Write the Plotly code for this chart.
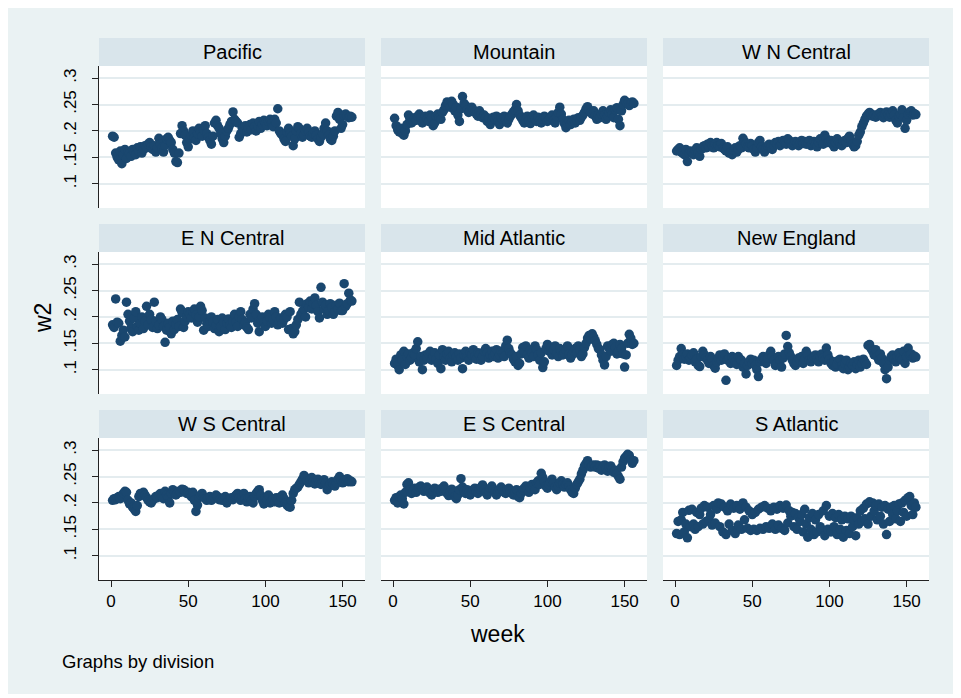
import plotly.graph_objects as go

# page is 961x698; plotly div sits at an 8px body margin
PAGE_W, PAGE_H = 961, 698
OFF = 8
W, H = PAGE_W - OFF, PAGE_H - OFF

divisions = ["Pacific", "Mountain", "W N Central",
             "E N Central", "Mid Atlantic", "New England",
             "W S Central", "E S Central", "S Atlantic"]

x_ticks = [0, 50, 100, 150]
y_ticks = [0.1, 0.15, 0.2, 0.25, 0.3]
y_ticktext = [".1", ".15", ".2", ".25", ".3"]

pacific = [
    0.190, 0.188, 0.158, 0.150, 0.145, 0.162, 0.138, 0.155, 0.165, 0.148,
    0.160, 0.158, 0.152, 0.165, 0.160, 0.155, 0.168, 0.162, 0.170, 0.158,
    0.165, 0.172, 0.168, 0.175, 0.178, 0.170, 0.165, 0.172, 0.160, 0.168,
    0.186, 0.175, 0.168, 0.160, 0.172, 0.185, 0.188, 0.182, 0.178, 0.165,
    0.158, 0.142, 0.140, 0.158, 0.195, 0.210, 0.200, 0.192, 0.178, 0.170,
    0.185, 0.192, 0.200, 0.188, 0.182, 0.195, 0.205, 0.198, 0.190, 0.202,
    0.210, 0.195, 0.188, 0.182, 0.175, 0.190, 0.215, 0.220, 0.210, 0.205,
    0.195, 0.185, 0.178, 0.190, 0.200, 0.205, 0.212, 0.218, 0.236, 0.222,
    0.218, 0.215, 0.188, 0.195, 0.205, 0.200, 0.210, 0.198, 0.205, 0.212,
    0.202, 0.215, 0.208, 0.200, 0.210, 0.218, 0.205, 0.212, 0.220, 0.215,
    0.210, 0.218, 0.222, 0.215, 0.208, 0.222, 0.215, 0.242, 0.200, 0.195,
    0.192, 0.185, 0.180, 0.198, 0.205, 0.195, 0.190, 0.172, 0.185, 0.200,
    0.208, 0.205, 0.195, 0.188, 0.192, 0.200, 0.205, 0.198, 0.190, 0.188,
    0.195, 0.200, 0.192, 0.185, 0.180, 0.188, 0.195, 0.205, 0.215, 0.200,
    0.192, 0.185, 0.182, 0.190, 0.200, 0.228, 0.235, 0.222, 0.205, 0.212,
    0.230, 0.232, 0.228, 0.225, 0.228, 0.226,
]

mountain = [
    0.224, 0.210, 0.202, 0.198, 0.205, 0.195, 0.192, 0.200, 0.212, 0.230,
    0.222, 0.215, 0.218, 0.225, 0.220, 0.228, 0.232, 0.225, 0.215, 0.220,
    0.228, 0.222, 0.218, 0.230, 0.225, 0.210, 0.215, 0.228, 0.232, 0.225,
    0.222, 0.235, 0.240, 0.248, 0.255, 0.252, 0.245, 0.256, 0.250, 0.238,
    0.245, 0.230, 0.218, 0.242, 0.265, 0.252, 0.248, 0.240, 0.235, 0.238,
    0.245, 0.240, 0.236, 0.232, 0.228, 0.238, 0.232, 0.225, 0.230, 0.226,
    0.218, 0.224, 0.212, 0.220, 0.226, 0.222, 0.228, 0.218, 0.212, 0.225,
    0.222, 0.228, 0.220, 0.215, 0.222, 0.228, 0.232, 0.236, 0.240, 0.250,
    0.238, 0.230, 0.225, 0.220, 0.215, 0.222, 0.228, 0.220, 0.214, 0.225,
    0.230, 0.222, 0.218, 0.226, 0.220, 0.215, 0.222, 0.228, 0.225, 0.218,
    0.222, 0.226, 0.230, 0.220, 0.215, 0.228, 0.235, 0.245, 0.232, 0.222,
    0.214, 0.206, 0.215, 0.220, 0.212, 0.218, 0.222, 0.215, 0.220, 0.225,
    0.220, 0.226, 0.230, 0.235, 0.242, 0.246, 0.240, 0.235, 0.232, 0.238,
    0.228, 0.222, 0.230, 0.225, 0.232, 0.238, 0.230, 0.222, 0.228, 0.235,
    0.240, 0.232, 0.225, 0.240, 0.244, 0.222, 0.210, 0.238, 0.250, 0.258,
    0.255, 0.252, 0.248, 0.252, 0.255, 0.252,
]

wn_central = [
    0.162, 0.165, 0.168, 0.160, 0.158, 0.155, 0.165, 0.142, 0.158, 0.162,
    0.160, 0.155, 0.163, 0.168, 0.158, 0.152, 0.165, 0.170, 0.172, 0.168,
    0.175, 0.170, 0.178, 0.172, 0.168, 0.175, 0.178, 0.172, 0.170, 0.176,
    0.168, 0.165, 0.162, 0.170, 0.158, 0.160, 0.155, 0.163, 0.168, 0.160,
    0.165, 0.172, 0.168, 0.186, 0.180, 0.175, 0.170, 0.168, 0.176, 0.172,
    0.165, 0.160, 0.168, 0.178, 0.182, 0.170, 0.165, 0.160, 0.168, 0.172,
    0.175, 0.170, 0.165, 0.172, 0.178, 0.175, 0.180, 0.172, 0.176, 0.182,
    0.178, 0.175, 0.185, 0.182, 0.176, 0.172, 0.178, 0.180, 0.176, 0.172,
    0.178, 0.182, 0.176, 0.180, 0.175, 0.178, 0.182, 0.172, 0.176, 0.180,
    0.175, 0.170, 0.178, 0.185, 0.180, 0.175, 0.192, 0.185, 0.178, 0.180,
    0.182, 0.175, 0.170, 0.178, 0.185, 0.180, 0.176, 0.172, 0.180, 0.182,
    0.178, 0.186, 0.190, 0.182, 0.175, 0.170, 0.172, 0.180, 0.192, 0.198,
    0.208, 0.215, 0.222, 0.228, 0.232, 0.235, 0.232, 0.228, 0.230, 0.226,
    0.230, 0.232, 0.235, 0.228, 0.225, 0.232, 0.236, 0.230, 0.226, 0.232,
    0.238, 0.230, 0.220, 0.215, 0.228, 0.232, 0.240, 0.225, 0.205, 0.220,
    0.232, 0.236, 0.238, 0.230, 0.233, 0.231,
]

en_central = [
    0.185, 0.180, 0.234, 0.190, 0.188, 0.154, 0.165, 0.175, 0.162, 0.228,
    0.205, 0.192, 0.180, 0.172, 0.198, 0.210, 0.182, 0.175, 0.188, 0.200,
    0.178, 0.192, 0.220, 0.185, 0.205, 0.195, 0.180, 0.228, 0.192, 0.178,
    0.185, 0.200, 0.195, 0.182, 0.152, 0.175, 0.188, 0.180, 0.168, 0.192,
    0.176, 0.186, 0.195, 0.182, 0.215, 0.208, 0.180, 0.192, 0.200, 0.210,
    0.205, 0.198, 0.210, 0.215, 0.204, 0.190, 0.200, 0.220, 0.212, 0.175,
    0.198, 0.188, 0.182, 0.192, 0.200, 0.190, 0.178, 0.185, 0.195, 0.172,
    0.182, 0.198, 0.190, 0.176, 0.188, 0.196, 0.185, 0.180, 0.192, 0.205,
    0.190, 0.182, 0.200, 0.210, 0.195, 0.185, 0.190, 0.180, 0.176, 0.205,
    0.198, 0.215, 0.225, 0.205, 0.188, 0.172, 0.195, 0.200, 0.190, 0.182,
    0.192, 0.205, 0.198, 0.188, 0.195, 0.210, 0.200, 0.185, 0.192, 0.198,
    0.188, 0.195, 0.205, 0.200, 0.176, 0.210, 0.178, 0.168, 0.172, 0.185,
    0.195, 0.228, 0.205, 0.210, 0.215, 0.200, 0.225, 0.218, 0.230, 0.215,
    0.225, 0.236, 0.222, 0.210, 0.198, 0.256, 0.228, 0.215, 0.222, 0.205,
    0.212, 0.225, 0.218, 0.205, 0.210, 0.222, 0.215, 0.226, 0.212, 0.212,
    0.263, 0.220, 0.225, 0.245, 0.232, 0.230,
]

mid_atlantic = [
    0.112, 0.120, 0.108, 0.100, 0.128, 0.118, 0.135, 0.110, 0.125, 0.130,
    0.118, 0.122, 0.132, 0.128, 0.140, 0.153, 0.115, 0.125, 0.100, 0.118,
    0.128, 0.122, 0.130, 0.135, 0.118, 0.125, 0.132, 0.120, 0.112, 0.128,
    0.102, 0.138, 0.125, 0.118, 0.130, 0.135, 0.122, 0.115, 0.128, 0.132,
    0.125, 0.118, 0.130, 0.122, 0.102, 0.128, 0.135, 0.125, 0.118, 0.132,
    0.128, 0.138, 0.125, 0.120, 0.132, 0.128, 0.118, 0.125, 0.135, 0.140,
    0.132, 0.122, 0.128, 0.135, 0.125, 0.130, 0.138, 0.122, 0.128, 0.135,
    0.130, 0.125, 0.145, 0.156, 0.140, 0.132, 0.128, 0.120, 0.115, 0.125,
    0.108, 0.112, 0.130, 0.142, 0.135, 0.145, 0.128, 0.122, 0.138, 0.132,
    0.125, 0.145, 0.138, 0.128, 0.118, 0.132, 0.104, 0.115, 0.140, 0.148,
    0.135, 0.142, 0.128, 0.138, 0.145, 0.130, 0.125, 0.140, 0.135, 0.128,
    0.132, 0.138, 0.145, 0.130, 0.122, 0.128, 0.135, 0.140, 0.132, 0.145,
    0.138, 0.125, 0.130, 0.142, 0.150, 0.160, 0.165, 0.158, 0.168, 0.162,
    0.155, 0.148, 0.140, 0.138, 0.128, 0.118, 0.109, 0.125, 0.145, 0.140,
    0.135, 0.148, 0.150, 0.142, 0.130, 0.135, 0.148, 0.140, 0.130, 0.105,
    0.128, 0.150, 0.167, 0.160, 0.148, 0.150,
]

new_england = [
    0.108, 0.118, 0.125, 0.140, 0.128, 0.120, 0.125, 0.130, 0.118, 0.122,
    0.128, 0.132, 0.115, 0.120, 0.108, 0.106, 0.125, 0.135, 0.128, 0.122,
    0.118, 0.112, 0.125, 0.120, 0.108, 0.103, 0.115, 0.122, 0.128, 0.118,
    0.125, 0.130, 0.080, 0.118, 0.122, 0.112, 0.125, 0.120, 0.115, 0.110,
    0.125, 0.120, 0.118, 0.105, 0.112, 0.092, 0.108, 0.115, 0.120, 0.112,
    0.118, 0.108, 0.100, 0.087, 0.115, 0.120, 0.125, 0.118, 0.112, 0.122,
    0.128, 0.135, 0.125, 0.118, 0.108, 0.112, 0.125, 0.118, 0.105, 0.122,
    0.130, 0.165, 0.144, 0.132, 0.125, 0.118, 0.112, 0.108, 0.115, 0.122,
    0.118, 0.125, 0.112, 0.120, 0.135, 0.128, 0.118, 0.115, 0.122, 0.125,
    0.128, 0.120, 0.115, 0.125, 0.130, 0.122, 0.118, 0.141, 0.128, 0.120,
    0.112, 0.108, 0.115, 0.105, 0.110, 0.118, 0.120, 0.108, 0.102, 0.112,
    0.118, 0.100, 0.105, 0.112, 0.108, 0.115, 0.102, 0.110, 0.118, 0.105,
    0.112, 0.120, 0.115, 0.110, 0.146, 0.148, 0.140, 0.135, 0.128, 0.138,
    0.125, 0.118, 0.130, 0.122, 0.112, 0.100, 0.083, 0.105, 0.118, 0.125,
    0.128, 0.120, 0.115, 0.125, 0.132, 0.122, 0.118, 0.135, 0.112, 0.125,
    0.141, 0.128, 0.130, 0.122, 0.126, 0.124,
]

ws_central = [
    0.205, 0.208, 0.206, 0.210, 0.212, 0.208, 0.214, 0.218, 0.222, 0.220,
    0.205, 0.198, 0.200, 0.192, 0.188, 0.184, 0.195, 0.212, 0.218, 0.215,
    0.220, 0.215, 0.210, 0.205, 0.202, 0.200, 0.205, 0.208, 0.212, 0.210,
    0.215, 0.218, 0.212, 0.208, 0.222, 0.215, 0.210, 0.200, 0.218, 0.225,
    0.220, 0.215, 0.218, 0.222, 0.220, 0.226, 0.225, 0.222, 0.218, 0.220,
    0.216, 0.212, 0.220, 0.205, 0.184, 0.196, 0.210, 0.215, 0.218, 0.212,
    0.208, 0.205, 0.210, 0.212, 0.205, 0.208, 0.210, 0.215, 0.212, 0.206,
    0.208, 0.205, 0.210, 0.212, 0.200, 0.205, 0.208, 0.210, 0.206, 0.212,
    0.215, 0.218, 0.210, 0.205, 0.212, 0.218, 0.208, 0.202, 0.210, 0.212,
    0.205, 0.200, 0.212, 0.218, 0.222, 0.225, 0.215, 0.205, 0.198, 0.210,
    0.205, 0.215, 0.200, 0.205, 0.208, 0.202, 0.210, 0.205, 0.200, 0.212,
    0.215, 0.208, 0.200, 0.196, 0.193, 0.192, 0.205, 0.218, 0.225, 0.228,
    0.230, 0.235, 0.240, 0.245, 0.252, 0.248, 0.242, 0.238, 0.245, 0.248,
    0.240, 0.236, 0.242, 0.245, 0.238, 0.235, 0.240, 0.244, 0.238, 0.225,
    0.232, 0.236, 0.240, 0.235, 0.232, 0.238, 0.245, 0.250, 0.242, 0.238,
    0.240, 0.244, 0.246, 0.240, 0.242, 0.240,
]

es_central = [
    0.205, 0.210, 0.200, 0.212, 0.215, 0.208, 0.198, 0.220, 0.235, 0.238,
    0.225, 0.218, 0.222, 0.228, 0.220, 0.225, 0.230, 0.232, 0.228, 0.222,
    0.226, 0.230, 0.224, 0.218, 0.215, 0.222, 0.228, 0.225, 0.220, 0.226,
    0.222, 0.228, 0.232, 0.225, 0.218, 0.214, 0.222, 0.226, 0.220, 0.212,
    0.208, 0.215, 0.225, 0.246, 0.230, 0.222, 0.218, 0.225, 0.220, 0.215,
    0.220, 0.225, 0.228, 0.222, 0.218, 0.226, 0.230, 0.234, 0.225, 0.220,
    0.215, 0.222, 0.228, 0.232, 0.225, 0.220, 0.215, 0.222, 0.226, 0.230,
    0.225, 0.220, 0.218, 0.225, 0.228, 0.222, 0.218, 0.215, 0.220, 0.225,
    0.212, 0.210, 0.218, 0.225, 0.228, 0.232, 0.225, 0.220, 0.228, 0.235,
    0.230, 0.225, 0.238, 0.242, 0.235, 0.256, 0.248, 0.240, 0.232, 0.228,
    0.235, 0.240, 0.245, 0.238, 0.230, 0.225, 0.232, 0.238, 0.242, 0.236,
    0.230, 0.235, 0.238, 0.232, 0.225, 0.220, 0.218, 0.228, 0.235, 0.240,
    0.245, 0.255, 0.262, 0.270, 0.275, 0.280, 0.272, 0.268, 0.270, 0.272,
    0.268, 0.272, 0.266, 0.270, 0.262, 0.268, 0.272, 0.265, 0.260, 0.268,
    0.270, 0.264, 0.258, 0.262, 0.255, 0.250, 0.245, 0.268, 0.278, 0.285,
    0.288, 0.292, 0.290, 0.282, 0.275, 0.280,
]

s_atlantic = [
    0.142, 0.165, 0.140, 0.168, 0.182, 0.145, 0.160, 0.134, 0.186, 0.155,
    0.188, 0.160, 0.150, 0.182, 0.155, 0.178, 0.190, 0.160, 0.195, 0.165,
    0.192, 0.168, 0.178, 0.158, 0.195, 0.162, 0.188, 0.200, 0.155, 0.198,
    0.145, 0.192, 0.140, 0.185, 0.160, 0.198, 0.148, 0.190, 0.142, 0.195,
    0.158, 0.188, 0.150, 0.200, 0.168, 0.192, 0.152, 0.185, 0.148, 0.178,
    0.150, 0.182, 0.148, 0.188, 0.152, 0.192, 0.150, 0.195, 0.155, 0.190,
    0.152, 0.185, 0.160, 0.192, 0.150, 0.188, 0.158, 0.195, 0.152, 0.190,
    0.148, 0.196, 0.162, 0.185, 0.175, 0.182, 0.155, 0.180, 0.150, 0.172,
    0.165, 0.178, 0.145, 0.188, 0.160, 0.135, 0.172, 0.150, 0.180, 0.140,
    0.168, 0.145, 0.178, 0.155, 0.150, 0.185, 0.138, 0.195, 0.150, 0.175,
    0.145, 0.180, 0.155, 0.172, 0.140, 0.178, 0.150, 0.168, 0.135, 0.175,
    0.148, 0.170, 0.142, 0.175, 0.155, 0.168, 0.138, 0.172, 0.160, 0.185,
    0.165, 0.190, 0.170, 0.198, 0.160, 0.202, 0.175, 0.200, 0.185, 0.195,
    0.168, 0.198, 0.175, 0.192, 0.160, 0.195, 0.140, 0.188, 0.165, 0.192,
    0.178, 0.195, 0.170, 0.185, 0.198, 0.165, 0.200, 0.182, 0.205, 0.175,
    0.210, 0.212, 0.195, 0.178, 0.200, 0.192,
]

series = [pacific, mountain, wn_central,
          en_central, mid_atlantic, new_england,
          ws_central, es_central, s_atlantic]

# ---- layout geometry (page pixels) ----
col_px = [(99, 365), (381, 647), (663, 929)]
row_px = [(38, 66, 208), (224, 252, 394), (410, 438, 580)]  # strip top, plot top, plot bottom

NAVY = "#1A476F"
BG = "#EAF2F3"
STRIP = "#D9E5EB"
GRID = "#E4ECEF"
FONT = "Liberation Sans, Arial, sans-serif"


def fx(px):
    return (px - OFF) / W


def fy(py):
    return 1 - (py - OFF) / H


fig = go.Figure()
layout = dict(
    width=W, height=H,
    margin=dict(l=0, r=0, t=0, b=0),
    paper_bgcolor=BG,
    plot_bgcolor="white",
    showlegend=False,
    font=dict(family=FONT, color="black"),
)
shapes = []
annotations = []

for i, (name, vals) in enumerate(zip(divisions, series)):
    r, c = divmod(i, 3)
    n = "" if i == 0 else str(i + 1)
    x0, x1 = col_px[c]
    st, pt, pb = row_px[r]
    weeks = list(range(1, len(vals) + 1))
    fig.add_trace(go.Scatter(
        x=weeks, y=vals, mode="markers",
        xaxis="x" + n, yaxis="y" + n,
        marker=dict(color=NAVY, size=9.5, line=dict(width=0)),
        hoverinfo="x+y",
    ))
    bottom = (r == 2)
    left = (c == 0)
    layout["xaxis" + n] = dict(
        domain=[fx(x0), fx(x1)], anchor="y" + n,
        range=[-7.8, 164.5], tickvals=x_ticks,
        showticklabels=bottom, ticks="outside" if bottom else "",
        ticklen=6, tickwidth=1, tickcolor="#222",
        showline=bottom, linecolor="#222", linewidth=1,
        showgrid=False, zeroline=False,
        tickfont=dict(size=17, family=FONT, color="black"),
    )
    layout["yaxis" + n] = dict(
        domain=[fy(pb), fy(pt)], anchor="x" + n,
        range=[0.054, 0.323], tickvals=y_ticks, ticktext=y_ticktext,
        showticklabels=left, ticks="outside" if left else "",
        ticklen=6, tickwidth=1, tickcolor="#222", tickangle=-90,
        ticklabelstandoff=9,
        showline=left, linecolor="#222", linewidth=1,
        showgrid=True, gridcolor=GRID, gridwidth=1.5, zeroline=False,
        tickfont=dict(size=17, family=FONT, color="black"),
    )
    shapes.append(dict(type="rect", xref="paper", yref="paper",
                       x0=fx(x0), x1=fx(x1), y0=fy(pt), y1=fy(st),
                       fillcolor=STRIP, line=dict(width=0), layer="below"))
    annotations.append(dict(text=name, xref="paper", yref="paper",
                            x=fx((x0 + x1) / 2), y=fy((st + pt) / 2),
                            xanchor="center", yanchor="middle", showarrow=False,
                            font=dict(size=20, family=FONT, color="black")))

# white outer frame on the right and bottom edges
for (a, b, cc, d) in [(955, 0, PAGE_W, PAGE_H), (0, 694, PAGE_W, PAGE_H)]:
    shapes.append(dict(type="rect", xref="paper", yref="paper",
                       x0=fx(a), x1=fx(cc), y0=fy(d), y1=fy(b),
                       fillcolor="white", line=dict(width=0), layer="below"))

annotations.append(dict(text="w2", xref="paper", yref="paper", x=fx(43), y=fy(318),
                        textangle=-90, xanchor="center", yanchor="middle", showarrow=False,
                        font=dict(size=23, family=FONT, color="black")))
annotations.append(dict(text="week", xref="paper", yref="paper", x=fx(497), y=fy(634),
                        xanchor="center", yanchor="middle", showarrow=False,
                        font=dict(size=23, family=FONT, color="black")))
annotations.append(dict(text="Graphs by division", xref="paper", yref="paper",
                        x=fx(60), y=fy(661), xanchor="left", yanchor="middle",
                        showarrow=False,
                        font=dict(size=18.5, family=FONT, color="black")))

layout["shapes"] = shapes
layout["annotations"] = annotations
fig.update_layout(**layout)
fig.write_html("out.html")
